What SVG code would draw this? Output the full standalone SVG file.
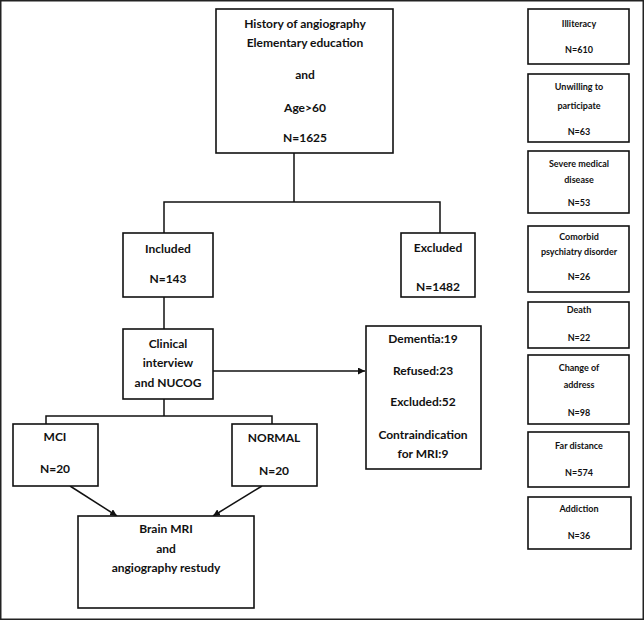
<svg xmlns="http://www.w3.org/2000/svg" width="644" height="620" viewBox="0 0 644 620">
<defs>
<marker id="ah" viewBox="0 0 10 10" refX="10" refY="5" markerWidth="7" markerHeight="7" markerUnits="userSpaceOnUse" orient="auto">
<path d="M0,0 L10,5 L0,10 z" fill="#111"/>
</marker>
<style>
.b{fill:#fff;stroke:#111;stroke-width:1.6}
.t{font-family:Lato,"Liberation Sans",sans-serif;font-weight:bold;font-size:12px;fill:#111;text-anchor:middle}
.s{font-family:Lato,"Liberation Sans",sans-serif;font-weight:bold;font-size:9px;fill:#111;text-anchor:middle}
.c{fill:none;stroke:#111;stroke-width:1.5}
</style>
</defs>
<rect width="644" height="620" fill="#fff"/>
<rect x="0.75" y="0.75" width="642.5" height="618.5" fill="none" stroke="#222" stroke-width="1.5"/>
<g id="connectors">
<path class="c" d="M294,153 V202 M164,233 V202 H440 V233"/>
<path class="c" d="M164,297 V329"/>
<path class="c" d="M164,399 V416 M46,424 V416 H272 V424"/>
<path class="c" d="M213,371 H365" marker-end="url(#ah)"/>
<path class="c" d="M70,486 L117,516" marker-end="url(#ah)"/>
<path class="c" d="M262,486 L213,516" marker-end="url(#ah)"/>
</g>
<g id="n-top"><rect class="b" x="216" y="9" width="177" height="144"/>
<text class="t" x="305" y="28">History of angiography</text>
<text class="t" x="305" y="47">Elementary education</text>
<text class="t" x="305" y="79">and</text>
<text class="t" x="305" y="112">Age&gt;60</text>
<text class="t" x="305" y="142">N=1625</text></g>
<g id="n-included"><rect class="b" x="123" y="233" width="90" height="64"/>
<text class="t" x="168" y="253">Included</text>
<text class="t" x="168" y="283">N=143</text></g>
<g id="n-excluded"><rect class="b" x="401" y="233" width="74" height="64"/>
<text class="t" x="438" y="252">Excluded</text>
<text class="t" x="438" y="291">N=1482</text></g>
<g id="n-clinical"><rect class="b" x="123" y="329" width="90" height="70"/>
<text class="t" x="168" y="348">Clinical</text>
<text class="t" x="168" y="367">interview</text>
<text class="t" x="168" y="387">and NUCOG</text></g>
<g id="n-dementia"><rect class="b" x="366" y="326" width="115" height="143"/>
<text class="t" x="423" y="343">Dementia:19</text>
<text class="t" x="423" y="375">Refused:23</text>
<text class="t" x="423" y="406">Excluded:52</text>
<text class="t" x="423" y="439">Contraindication</text>
<text class="t" x="423" y="458">for MRI:9</text></g>
<g id="n-mci"><rect class="b" x="13" y="424" width="85" height="62"/>
<text class="t" x="55" y="441">MCI</text>
<text class="t" x="55" y="473">N=20</text></g>
<g id="n-normal"><rect class="b" x="232" y="424" width="85" height="62"/>
<text class="t" x="274" y="442">NORMAL</text>
<text class="t" x="274" y="475">N=20</text></g>
<g id="n-brain"><rect class="b" x="78" y="516" width="176" height="92"/>
<text class="t" x="166" y="533">Brain MRI</text>
<text class="t" x="166" y="553">and</text>
<text class="t" x="166" y="572">angiography restudy</text></g>
<g id="r1"><rect class="b" x="528" y="9" width="101" height="55"/>
<text class="s" x="579" y="27">Illiteracy</text>
<text class="s" x="579" y="53">N=610</text></g>
<g id="r2"><rect class="b" x="528" y="74" width="101" height="68"/>
<text class="s" x="579" y="90">Unwilling to</text>
<text class="s" x="579" y="109">participate</text>
<text class="s" x="579" y="135">N=63</text></g>
<g id="r3"><rect class="b" x="528" y="151" width="101" height="62"/>
<text class="s" x="579" y="167">Severe medical</text>
<text class="s" x="579" y="183">disease</text>
<text class="s" x="579" y="206">N=53</text></g>
<g id="r4"><rect class="b" x="528" y="226" width="101" height="66"/>
<text class="s" x="579" y="240">Comorbid</text>
<text class="s" x="579" y="255">psychiatry disorder</text>
<text class="s" x="579" y="280">N=26</text></g>
<g id="r5"><rect class="b" x="528" y="302" width="101" height="46"/>
<text class="s" x="579" y="313">Death</text>
<text class="s" x="579" y="341">N=22</text></g>
<g id="r6"><rect class="b" x="528" y="355" width="101" height="69"/>
<text class="s" x="579" y="371">Change of</text>
<text class="s" x="579" y="388">address</text>
<text class="s" x="579" y="416">N=98</text></g>
<g id="r7"><rect class="b" x="528" y="432" width="101" height="55"/>
<text class="s" x="579" y="449">Far distance</text>
<text class="s" x="579" y="476">N=574</text></g>
<g id="r8"><rect class="b" x="528" y="497" width="103" height="52"/>
<text class="s" x="579" y="512">Addiction</text>
<text class="s" x="579" y="539">N=36</text></g>
</svg>
